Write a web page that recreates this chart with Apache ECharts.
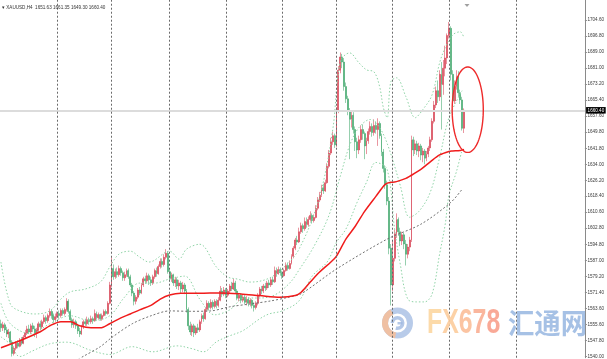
<!DOCTYPE html>
<html><head><meta charset="utf-8">
<script src="https://cdn.jsdelivr.net/npm/echarts@6/dist/echarts.min.js"></script>
<style>html,body{margin:0;padding:0;background:#fff;overflow:hidden}#c{width:607px;height:359px}</style>
</head><body><div id="c"></div>
<script>
// ---- data ----
const opens = [1556,1554,1555.5,1553,1551,1552,1547,1541.5,1544,1546.5,
1545,1548,1546.5,1549.5,1551.5,1553.5,1552,1555,1553.5,1551.5,
1553,1556,1554.5,1557,1559,1557.5,1560,1562,1560,1558,
1559.5,1561,1560,1562.5,1561,1563,1567,1562,1558,1555.5,
1557,1555,1552.5,1551,1554.5,1557,1556,1558,1557,1558.5,
1557.5,1561,1559,1560.5,1558.5,1560,1562,1561,1566,1575,
1583,1579,1581.5,1580,1583,1581,1578.5,1580,1582,1579,
1575,1571,1567,1569,1572.5,1571,1575,1578,1577,1579.5,
1577.5,1576,1579,1582,1580.5,1584,1586.5,1585,1588.5,1590.5,
1581.5,1578,1580,1576,1577.5,1574.5,1576,1573,1575,1572,
1563,1555,1552,1555,1551.5,1554,1553,1557,1560,1558.5,
1563,1566,1564,1566.5,1564.5,1567,1565,1567.5,1572,1570.5,
1572.5,1570,1572,1574.5,1573,1576,1572,1568.5,1570,1567.5,
1569,1566.5,1568,1566,1567.5,1565,1564,1566,1570,1573,
1572,1574.5,1573.5,1576,1575,1577.5,1576.5,1582,1580.5,1582.5,
1581,1579.5,1582,1584.5,1583,1585.5,1589,1593,1597,1596,
1601,1604,1602.5,1606,1604.5,1607,1609,1606.5,1608,1612.5,
1616.5,1619,1622.5,1621,1625,1633,1639.5,1645,1648,1643.5,
1660,1680,1686.5,1684,1672,1666,1660,1656,1658,1651,
1645,1641,1646,1651,1649,1643,1645.5,1650,1652.5,1649.5,
1653,1651,1654,1648,1640,1632,1624,1616,1593,1575,
1588,1600,1607,1601,1596.5,1599.5,1595,1590,1593.5,1597,
1646,1641,1644,1640.5,1643,1638.5,1640.5,1637,1639,1642,
1646,1655,1663,1670,1667,1678,1673,1681,1686,1697,
1700.5,1678,1665,1672,1677,1669,1665.5,1651.63];
const closes = [1554,1555.5,1553,1551,1552,1547,1541.5,1544,1546.5,1545,
1548,1546.5,1549.5,1551.5,1553.5,1552,1555,1553.5,1551.5,1553,
1556,1554.5,1557,1559,1557.5,1560,1562,1560,1558,1559.5,
1561,1560,1562.5,1561,1563,1567,1562,1558,1555.5,1557,
1555,1552.5,1551,1554.5,1557,1556,1558,1557,1558.5,1557.5,
1561,1559,1560.5,1558.5,1560,1562,1561,1566,1575,1583,
1579,1581.5,1580,1583,1581,1578.5,1580,1582,1579,1575,
1571,1567,1569,1572.5,1571,1575,1578,1577,1579.5,1577.5,
1576,1579,1582,1580.5,1584,1586.5,1585,1588.5,1590.5,1581.5,
1578,1580,1576,1577.5,1574.5,1576,1573,1575,1572,1563,
1555,1552,1555,1551.5,1554,1553,1557,1560,1558.5,1563,
1566,1564,1566.5,1564.5,1567,1565,1567.5,1572,1570.5,1572.5,
1570,1572,1574.5,1573,1576,1572,1568.5,1570,1567.5,1569,
1566.5,1568,1566,1567.5,1565,1564,1566,1570,1573,1572,
1574.5,1573.5,1576,1575,1577.5,1576.5,1582,1580.5,1582.5,1581,
1579.5,1582,1584.5,1583,1585.5,1589,1593,1597,1596,1601,
1604,1602.5,1606,1604.5,1607,1609,1606.5,1608,1612.5,1616.5,
1619,1622.5,1621,1625,1633,1639.5,1645,1648,1643.5,1660,
1680,1686.5,1684,1672,1666,1660,1656,1658,1651,1645,
1641,1646,1651,1649,1643,1645.5,1650,1652.5,1649.5,1653,
1651,1654,1648,1640,1632,1624,1616,1593,1575,1588,
1600,1607,1601,1596.5,1599.5,1595,1590,1593.5,1597,1646,
1641,1644,1640.5,1643,1638.5,1640.5,1637,1639,1642,1646,
1655,1663,1670,1667,1678,1673,1681,1686,1697,1700.5,
1678,1665,1672,1677,1669,1665.5,1651.6,1660.4];
const lows = [1552,1552.5,1551.5,1549.5,1549,1546,1540,1540.5,1543,1544,
1544.5,1545.5,1546,1548.5,1550.5,1551,1551,1552,1549.5,1549,
1552,1553,1553.5,1556,1556,1556.5,1559,1558.5,1556.5,1557,
1558.5,1558.5,1559,1560,1560,1562,1561,1557,1554,1554,
1553.5,1551,1549.5,1550.5,1553.5,1555,1555,1555.5,1556,1556,
1557,1558,1558,1557.5,1557.5,1559.5,1560,1560.5,1565.5,1574,
1577.5,1578,1578.5,1579,1579.5,1577,1577,1579,1578,1574,
1569.5,1565,1565.5,1568,1570,1570.5,1574,1575.5,1576,1575,
1574.5,1575,1578,1579,1580,1583,1583.5,1584,1587.5,1580.5,
1576.5,1576.5,1574.5,1574,1573,1572.5,1571,1571.5,1570.5,1561.5,
1553,1550.5,1550,1549.5,1550.5,1551.5,1552,1556,1557,1558,
1562,1562.5,1563,1563,1563.5,1563.5,1564,1567,1569,1569.5,
1568.5,1569,1571,1572,1572.5,1571,1567.5,1567,1566,1566.5,
1565.5,1565,1564.5,1564.5,1563.5,1562,1563,1565,1569,1570.5,
1571,1572,1572.5,1573.5,1574,1575,1576,1579,1580,1579.5,
1578,1579,1581.5,1582,1582.5,1585,1588,1592,1594.5,1595.5,
1600,1600.5,1601.5,1603,1603.5,1606,1605,1605.5,1607.5,1611.5,
1615.5,1618,1619.5,1620.5,1624.5,1632,1638.5,1643.5,1642,1642.5,
1659,1678.5,1681,1670,1664,1658,1636.5,1652,1649,1640.5,
1637,1639,1644.5,1646,1636.5,1639,1644,1648.5,1647.5,1648,
1649,1643,1646.5,1638,1630,1622,1614,1590,1565,1572,
1586.5,1598,1599,1594,1594.5,1592.5,1584.5,1588,1591.5,1596,
1638,1639,1638.5,1637.5,1636,1635,1634,1635.5,1637.5,1640.5,
1645,1654,1661.5,1664,1665,1651,1668,1677,1683,1695.5,
1675,1662.5,1663.5,1670.5,1667,1663.5,1650.5,1649.3];
const highs = [1558,1557,1556.5,1554.5,1553.5,1552.5,1548,1545,1547.5,1548,
1549,1549.5,1550.5,1553,1555,1555.5,1556,1556.5,1555,1554,
1557,1557.5,1558,1560.5,1560,1561,1563.5,1563,1561,1561,
1562,1562.5,1563.5,1563.5,1564,1568.5,1568,1563,1559,1558.5,
1558,1556,1554,1555.5,1558,1558.5,1559.5,1559,1560,1559.5,
1563,1562,1561.5,1561,1561,1563,1563,1567,1576.5,1588.5,
1585,1583,1583.5,1584.5,1584,1582,1581.5,1583,1583,1580,
1576,1572,1570,1573.5,1574,1576,1579,1579.5,1581,1580.5,
1579,1580,1583,1583.5,1585,1588,1588,1590,1592.5,1591.5,
1582.5,1581,1580.5,1579,1578.5,1577.5,1577,1576.5,1576,1573,
1564,1557,1556,1556,1555,1556,1558,1561,1561.5,1564,
1567.5,1567,1568,1567.5,1568,1568,1569,1574.5,1573.5,1574,
1573.5,1573,1575.5,1576.5,1578,1577,1573,1571,1571,1570.5,
1570,1569.5,1569,1568.5,1568,1566.5,1567,1571,1574,1574.5,
1575.5,1576,1577,1577.5,1578.5,1579,1584,1583.5,1584,1583.5,
1582,1583,1586,1586,1587,1590,1594,1598,1599,1603,
1605.5,1605,1608,1608,1608.5,1611,1610,1609.5,1614,1618,
1620.5,1624,1624.5,1626.5,1634.5,1641,1647,1650,1649,1662,
1682,1688.7,1688,1686,1674,1667.5,1661.5,1660,1659.5,1652.5,
1647,1648,1653,1653.5,1650,1647,1651.5,1655,1654,1656,
1655,1656.5,1655,1649,1641.5,1633.5,1626,1618,1595,1597,
1602,1610,1608,1603,1601,1600.5,1597,1595,1598.5,1648,
1647.5,1646,1645.5,1644.5,1644,1642,1641.5,1640.5,1643,1647.5,
1656.5,1665,1672,1675,1680,1684,1685,1692,1698,1703.6,
1701.5,1680,1675,1680,1679.5,1670.5,1667,1661.35];
const futureBars = 64;              // empty space right of the last bar
const priceTicks = [1704.60,1696.80,1689.00,1681.00,1673.20,1665.40,1657.60,1649.80,1641.80,1634.00,1626.20,
  1618.40,1610.60,1602.80,1594.80,1587.00,1579.20,1571.40,1563.60,1555.60,1547.80,1540.00];
const maRed = [[0,1544.3],[10,1547.7],[21,1552.1],[26,1555.0],[32,1557.0],[37,1557.0],[42,1555.0],[48,1554.0],[53,1554.0],[58,1556.0],[64,1558.9],[69,1560.8],[74,1562.8],[80,1565.0],[85,1568.1],[90,1570.1],[96,1570.9],[106,1570.9],[117,1571.1],[128,1570.6],[138,1569.8],[149,1569.0],[157,1569.8],[160,1571.3],[165,1576.4],[170,1581.3],[176,1586.2],[179,1589.1],[184,1597.4],[189,1603.7],[194,1611.0],[200,1618.3],[205,1624.2],[208,1625.2],[210,1625.3],[216,1627.1],[218,1628.1],[224,1631.5],[229,1635.2],[234,1638.6],[239,1640.3],[241,1640.5],[245,1640.8],[247,1641.3]];
const maGray = [[30,1533.0],[44,1540.1],[53,1544.8],[59,1549.2],[70,1556.0],[80,1559.9],[90,1562.3],[101,1562.1],[112,1562.3],[122,1564.3],[133,1565.7],[144,1567.2],[154,1569.1],[160,1570.6],[179,1582.8],[206,1597.4],[224,1604.7],[240,1615.4],[246,1621.8]];
const bbUpper = [[0,1586.2],[5,1565.7],[10,1562.3],[18,1560.8],[26,1562.3],[32,1568.1],[37,1571.6],[45,1573.0],[53,1576.4],[58,1583.7],[63,1590.1],[69,1591.5],[74,1588.6],[79,1586.2],[90,1591.5],[95,1587.6],[99,1592.5],[106,1594.9],[115,1583.7],[121,1578.9],[126,1577.9],[133,1576.4],[142,1577.9],[150,1582.8],[159,1592.5],[170,1618.3],[177,1651.0],[181,1684.1],[186,1688.5],[191,1683.6],[195,1680.2],[199,1679.2],[202,1672.0],[204,1661.7],[206,1656.8],[208,1674.4],[211,1676.3],[216,1667.1],[221,1656.8],[225,1660.7],[230,1668.0],[234,1683.6],[237,1691.0],[241,1697.3],[245,1698.8],[247,1695.8]];
const bbMiddle = [[0,1566.0],[5,1556.0],[16,1551.1],[26,1556.0],[37,1559.9],[48,1557.4],[58,1559.9],[66,1569.1],[74,1575.9],[82,1575.9],[90,1577.9],[98,1579.3],[106,1568.1],[114,1560.4],[122,1562.8],[130,1568.6],[138,1568.6],[146,1570.1],[154,1575.9],[159,1582.3],[167,1593.9],[175,1609.1],[181,1628.1],[186,1643.2],[191,1652.0],[197,1655.9],[202,1652.0],[207,1641.7],[213,1623.7],[218,1608.1],[223,1611.0],[229,1620.3],[234,1637.3],[239,1656.8],[246,1670.0]];
const bbLower = [[0,1549.6],[5,1546.0],[10,1540.0],[17,1542.8],[26,1546.2],[35,1547.0],[48,1543.0],[58,1541.0],[70,1544.8],[81,1542.3],[94,1545.2],[102,1543.8],[108,1542.3],[115,1547.2],[122,1550.1],[129,1552.6],[138,1558.4],[143,1560.8],[150,1562.3],[159,1567.2],[166,1579.3],[174,1586.2],[179,1595.9],[184,1602.3],[190,1615.4],[195,1625.2],[200,1634.9],[206,1631.5],[210,1602.3],[213,1585.2],[217,1568.1],[222,1566.7],[226,1566.7],[230,1570.6],[234,1590.1],[237,1604.7],[239,1618.8],[243,1630.5],[246,1641.2]];
const weekLines = [30,59,90,120,150,179,209,239,275];
const lastPrice = 1660.40;
const headerText = 'XAUUSD,H4  1651.63 1661.35 1649.30 1660.40';
const circled = {center:[249,1660.7], halfBars:8.3, halfPrice:20.9};

// ---- build ----
const nBars = opens.length;
const categories = Array.from({length: nBars + futureBars}, (_, i) => String(i));
const ohlc = opens.map((o, i) => [o, closes[i], lows[i], highs[i]]);
const bbStyle = {color:'#8fd3a6', width:1, type:[1.5,2]};
function lineSeries(data, lineStyle, smooth){
  return {type:'line', data, showSymbol:false, symbol:'none', smooth, silent:true,
    lineStyle, clip:true, z:3, animation:false};
}
const chart = echarts.init(document.getElementById('c'), null, {renderer:'canvas'});
const option = {
  animation:false,
  backgroundColor:'#ffffff',
  grid:{left:0, right:21.5, top:0, bottom:0, containLabel:false},
  xAxis:{type:'category', data:categories, boundaryGap:true,
    axisLine:{show:false}, axisTick:{show:false}, axisLabel:{show:false}, splitLine:{show:false}},
  yAxis:{type:'value', position:'right', min:1539.4, max:1714.35, scale:true,
    axisLine:{show:true, lineStyle:{color:'#8a8a8a', width:1}},
    axisTick:{show:true, length:2, customValues:priceTicks, lineStyle:{color:'#8a8a8a'}},
    axisLabel:{show:true, customValues:priceTicks, formatter:v=>v.toFixed(2), fontSize:4.6,
      color:'#3a3a3a', margin:2.5, fontFamily:'Liberation Sans, Arial, sans-serif'},
    splitLine:{show:false}},
  series:[
    {type:'candlestick', data:ohlc, barWidth:1.4, z:2,
      itemStyle:{color:'#d02a3c', color0:'#2e9c5c', borderColor:'rgba(214,60,78,0.6)', borderColor0:'rgba(60,165,105,0.6)', borderWidth:0.9},
      markLine:{symbol:'none', silent:true, animation:false,
        data:[
          {yAxis:lastPrice, lineStyle:{color:'#dcdcdc', width:2, type:'solid'},
            label:{show:true, position:'end', formatter:lastPrice.toFixed(2), backgroundColor:'#000', color:'#fff',
              fontSize:4.6, padding:[1,1.5,0.5,1.5], distance:1.2, fontFamily:'Liberation Sans, Arial, sans-serif'}},
          ...weekLines.map(i => ({xAxis:i, lineStyle:{color:'#6a6a6a', width:1, type:[2,2]}, label:{show:false}}))
        ]}},
    lineSeries(bbUpper, bbStyle, 0.35),
    lineSeries(bbMiddle, bbStyle, 0.35),
    lineSeries(bbLower, bbStyle, 0.35),
    lineSeries(maGray, {color:'#707070', width:1, type:[2,2]}, 0.3),
    lineSeries(maRed, {color:'#f01c1c', width:1.5, type:'solid'}, 0.3)
  ]
};
chart.setOption(option);

// annotation ellipse + watermark + header
const cp = chart.convertToPixel({gridIndex:0}, circled.center);
const px1 = chart.convertToPixel({gridIndex:0}, [circled.center[0] + 8, circled.center[1] + circled.halfPrice]);
const rx = (px1[0] - cp[0]) * circled.halfBars / 8;
const ry = cp[1] - px1[1];
const pts = [];
for (let k = 0; k < 90; k++) { const a = k / 90 * Math.PI * 2; pts.push([cp[0] + rx * Math.cos(a), cp[1] + ry * Math.sin(a)]); }
const lx = 397.5, ly = 323;
chart.setOption({graphic:[
  {type:'polygon', shape:{points:pts}, style:{fill:'none', stroke:'#ee2b2b', lineWidth:1.4}, z:20, silent:true},
  {type:'text', x:2, y:8, z:20, style:{text:'\u25BE ' + headerText, font:'4.6px "Liberation Sans", Arial, sans-serif', fill:'#333', textVerticalAlign:'middle'}},
  {type:'polygon', shape:{points:[[464.5,4],[469.5,4],[467,7]]}, style:{fill:'#a0a0a0'}, z:20},
  // logo
  {type:'group', z:30, silent:true, children:[
    {type:'ring', shape:{cx:lx, cy:ly, r:15.5, r0:9.5}, style:{fill:'rgba(160,185,225,0.75)'}},
    {type:'sector', shape:{cx:lx, cy:ly, r:15.5, r0:9.5, startAngle:Math.PI*0.55, endAngle:Math.PI*1.35, clockwise:true}, style:{fill:'rgba(248,190,150,0.85)'}},
    {type:'sector', shape:{cx:lx, cy:ly, r:7, r0:3.5, startAngle:Math.PI*1.0, endAngle:Math.PI*2.6, clockwise:true}, style:{fill:'rgba(160,185,225,0.8)'}},
    {type:'rect', shape:{x:lx, y:ly-1, width:5, height:2.5}, style:{fill:'rgba(160,185,225,0.8)'}}
  ]},
  {type:'text', x:427, y:323, scaleX:0.71, z:30, silent:true, style:{
    text:'{a|F}{b|X}{c|6}{d|7}{e|8}', textVerticalAlign:'middle',
    font:'bold 35px "Liberation Sans", Arial, sans-serif',
    rich:{a:{fill:'rgba(252,214,160,0.9)', font:'bold 35px "Liberation Sans", Arial, sans-serif'},
          b:{fill:'rgba(252,204,156,0.9)', font:'bold 35px "Liberation Sans", Arial, sans-serif'},
          c:{fill:'rgba(251,190,152,0.9)', font:'bold 35px "Liberation Sans", Arial, sans-serif'},
          d:{fill:'rgba(249,174,146,0.9)', font:'bold 35px "Liberation Sans", Arial, sans-serif'},
          e:{fill:'rgba(248,160,140,0.9)', font:'bold 35px "Liberation Sans", Arial, sans-serif'}}}},
  {type:'text', x:508, y:323, scaleX:0.94, z:30, silent:true, style:{
    text:'汇通网', textVerticalAlign:'middle', fill:'rgba(150,182,225,0.85)',
    font:'bold 28px "Noto Sans CJK SC", sans-serif'}}
]});
</script>
</body></html>
